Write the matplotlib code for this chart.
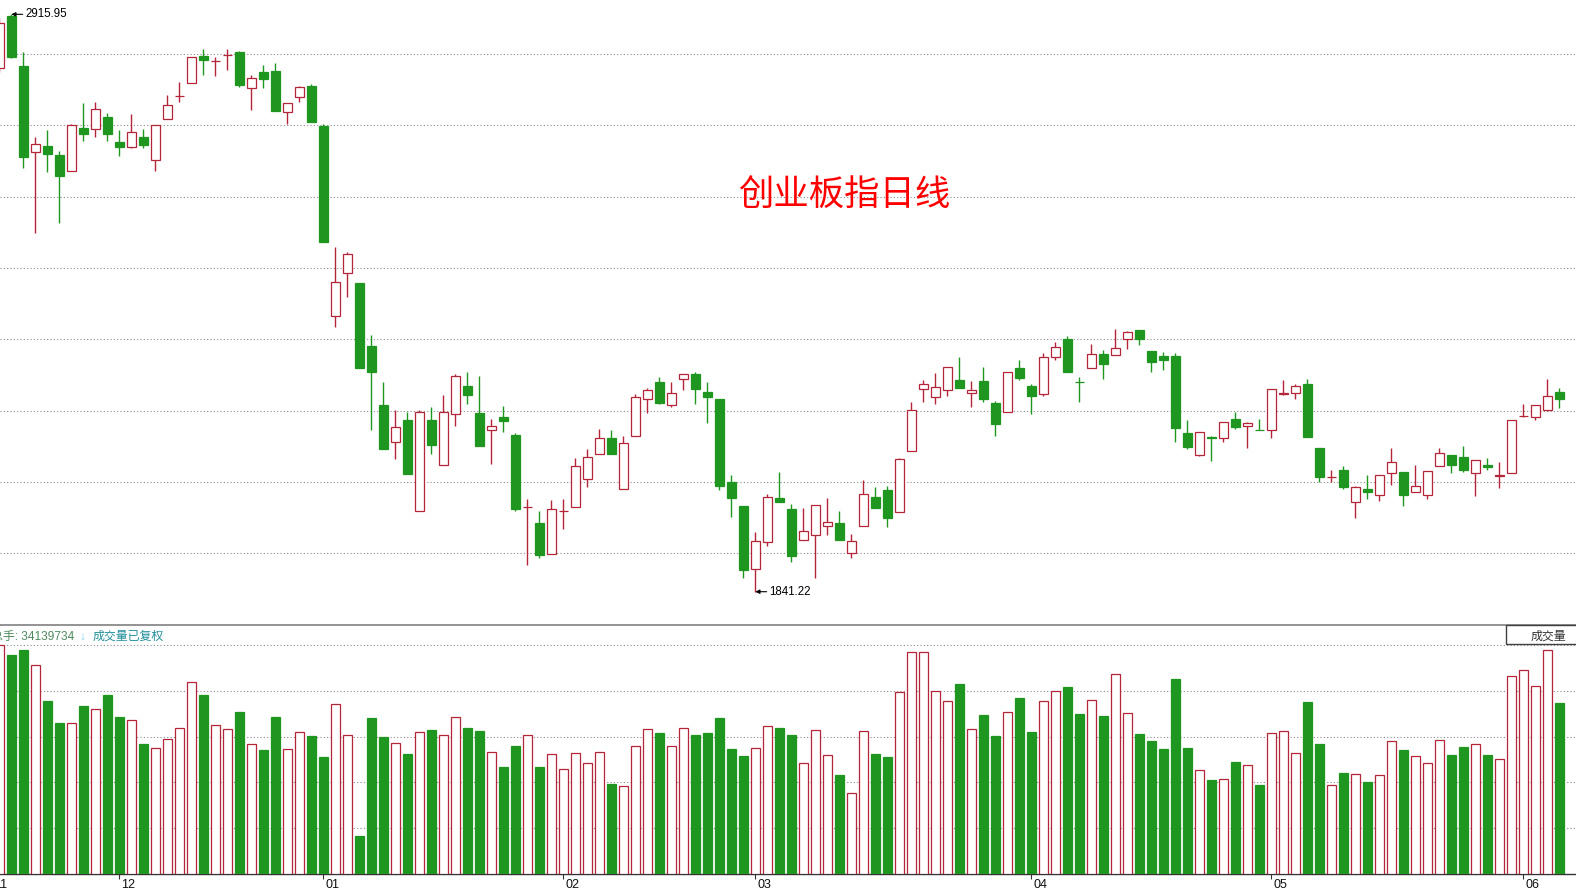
import numpy as np
import matplotlib.pyplot as plt
import matplotlib.transforms as mtrans
from matplotlib.patches import Rectangle

plt.rcParams['font.family'] = ['Liberation Sans', 'Noto Sans CJK SC', 'DejaVu Sans']

# 日线数据
opens = [2815.4, 2913.3, 2819.2, 2660.2, 2670.8, 2653.5, 2624.9, 2704.3, 2701.9, 2724.2,
         2678.3, 2668.4, 2687.6, 2645.3, 2720.5, 2763.3, 2787.5, 2838.3, 2828.5, 2839.6,
         2845.2, 2778.2, 2808.6, 2810.4, 2734.7, 2761.5, 2782.5, 2708.6, 2355.0, 2435.0,
         2415.8, 2298.6, 2188.7, 2119.3, 2160.8, 1992.0, 2160.8, 2076.5, 2171.4, 2224.1,
         2173.9, 2141.7, 2165.9, 2132.4, 1998.0, 1968.5, 1910.9, 1990.9, 1998.3, 2050.5,
         2097.0, 2126.8, 2031.8, 2130.5, 2199.4, 2231.0, 2188.2, 2236.6, 2246.4, 2212.9,
         2199.9, 2044.9, 2000.8, 1882.9, 1933.2, 2015.6, 1995.2, 1936.9, 1946.2, 1964.1,
         1969.1, 1912.7, 1964.1, 2017.5, 2030.5, 1989.0, 2103.7, 2218.0, 2203.1, 2216.1,
         2235.3, 2210.5, 2233.4, 2192.5, 2175.2, 2257.6, 2223.6, 2209.8, 2277.5, 2311.0,
         2232.1, 2257.1, 2283.1, 2281.3, 2312.2, 2327.8, 2288.7, 2279.4, 2279.4, 2136.1,
         2095.1, 2129.2, 2126.8, 2162.1, 2150.2, 2142.2, 2141.7, 2209.8, 2210.5, 2227.8,
         2108.7, 2053.8, 2067.2, 2007.6, 2032.4, 2020.7, 2061.6, 2063.5, 2026.3, 2020.7,
         2074.7, 2095.1, 2092.0, 2061.6, 2077.1, 2057.2, 2062.7, 2167.7, 2165.9, 2178.9,
         2212.9]
highs = [2909.1, 2915.95, 2845.2, 2688.1, 2700.6, 2661.5, 2711.2, 2750.9, 2752.7, 2732.2,
         2700.6, 2730.4, 2702.5, 2709.4, 2765.8, 2789.9, 2835.9, 2850.8, 2837.0, 2850.8,
         2848.2, 2802.4, 2821.6, 2825.3, 2750.3, 2782.5, 2786.2, 2711.8, 2482.3, 2473.0,
         2415.8, 2318.5, 2231.6, 2178.9, 2176.3, 2178.9, 2185.0, 2207.9, 2246.4, 2250.2,
         2243.3, 2163.2, 2186.9, 2137.2, 2014.3, 1991.5, 2011.9, 2013.2, 2090.1, 2106.9,
         2144.1, 2142.2, 2131.6, 2209.2, 2219.8, 2241.4, 2231.6, 2245.9, 2250.2, 2232.1,
         2199.9, 2058.5, 2000.8, 1952.4, 2023.1, 2064.0, 2004.5, 1996.5, 2002.1, 2015.1,
         1991.5, 1948.1, 2048.6, 2035.6, 2038.0, 2089.5, 2193.8, 2235.3, 2248.3, 2258.9,
         2278.1, 2233.4, 2259.5, 2196.2, 2249.6, 2272.5, 2227.3, 2285.5, 2306.0, 2316.6,
         2240.3, 2301.7, 2290.6, 2329.6, 2325.9, 2327.8, 2288.7, 2288.0, 2285.0, 2160.3,
         2137.9, 2130.5, 2156.5, 2176.3, 2157.7, 2163.2, 2218.0, 2235.3, 2227.3, 2237.1,
         2108.7, 2067.8, 2075.2, 2038.5, 2059.0, 2057.9, 2108.7, 2063.5, 2077.1, 2065.3,
         2108.7, 2095.1, 2113.0, 2085.8, 2089.5, 2083.2, 2160.3, 2190.0, 2188.2, 2237.7,
         2220.4]
lows = [2808.6, 2834.6, 2630.4, 2509.4, 2623.0, 2526.9, 2624.9, 2680.1, 2688.1, 2680.1,
        2652.8, 2666.5, 2667.1, 2624.9, 2720.5, 2752.2, 2787.5, 2803.5, 2801.7, 2812.8,
        2781.2, 2737.8, 2779.3, 2736.5, 2711.8, 2752.2, 2716.1, 2492.7, 2334.5, 2390.3,
        2257.1, 2142.2, 2107.4, 2088.8, 2060.9, 1992.0, 2098.1, 2076.5, 2150.2, 2191.2,
        2113.0, 2079.5, 2139.1, 1992.0, 1890.4, 1903.4, 1910.9, 1958.5, 1998.3, 2036.7,
        2097.0, 2098.1, 2031.8, 2130.5, 2173.3, 2190.0, 2184.5, 2217.2, 2191.2, 2155.8,
        2030.5, 1980.3, 1867.3, 1841.22, 1926.9, 2008.8, 1897.1, 1936.9, 1867.3, 1947.3,
        1936.9, 1904.5, 1964.1, 1997.6, 1962.2, 1989.0, 2103.7, 2193.8, 2191.2, 2206.1,
        2220.4, 2185.6, 2193.8, 2131.6, 2175.2, 2234.7, 2172.6, 2206.1, 2273.1, 2250.7,
        2194.9, 2257.1, 2237.7, 2281.3, 2292.4, 2299.9, 2250.7, 2254.5, 2120.4, 2107.4,
        2093.3, 2085.1, 2120.4, 2144.6, 2109.3, 2141.7, 2127.9, 2207.9, 2200.5, 2129.7,
        2046.0, 2046.0, 2033.0, 1977.9, 2014.3, 2010.6, 2039.3, 2001.3, 2026.3, 2014.3,
        2074.7, 2062.7, 2064.6, 2019.9, 2067.2, 2034.8, 2061.6, 2165.9, 2160.8, 2177.6,
        2183.7]
closes = [2899.2, 2835.9, 2650.9, 2674.0, 2656.5, 2615.5, 2709.4, 2693.7, 2739.1, 2693.7,
          2669.5, 2696.3, 2673.2, 2709.4, 2746.6, 2763.9, 2835.9, 2830.9, 2829.6, 2840.8,
          2784.4, 2796.8, 2796.1, 2736.5, 2750.3, 2780.1, 2716.1, 2492.7, 2417.1, 2469.2,
          2258.2, 2250.7, 2107.4, 2147.2, 2060.9, 2175.7, 2114.9, 2175.7, 2242.7, 2206.8,
          2113.0, 2149.1, 2159.5, 1995.7, 1998.9, 1909.0, 1994.6, 1992.0, 2074.7, 2091.4,
          2126.8, 2098.1, 2118.0, 2203.1, 2216.1, 2193.0, 2210.5, 2245.9, 2219.1, 2204.2,
          2038.5, 2016.2, 1882.2, 1935.6, 2017.0, 2008.8, 1908.2, 1953.7, 2002.1, 1970.4,
          1938.0, 1935.1, 2022.5, 1997.6, 1979.0, 2087.7, 2178.9, 2227.3, 2221.7, 2258.9,
          2220.4, 2216.7, 2200.5, 2153.9, 2249.6, 2239.6, 2206.1, 2278.6, 2297.3, 2250.7,
          2231.0, 2283.1, 2265.6, 2294.3, 2324.1, 2311.0, 2268.2, 2273.1, 2146.5, 2111.1,
          2137.9, 2127.9, 2156.5, 2148.4, 2154.7, 2141.7, 2218.0, 2210.5, 2223.6, 2129.7,
          2055.3, 2054.4, 2036.7, 2035.6, 2027.4, 2057.9, 2082.1, 2021.8, 2037.4, 2065.3,
          2098.8, 2077.6, 2068.3, 2085.8, 2072.8, 2057.9, 2160.3, 2168.3, 2188.2, 2204.9,
          2200.5]
# 成交量 (万手)
volumes = [4572, 4379, 4472, 4166, 3454, 3015, 3008, 3354, 3294, 3574,
           3135, 3068, 2595, 2516, 2695, 2915, 3833, 3574, 2975, 2895,
           3228, 2589, 2476, 3135, 2496, 2828, 2755, 2336, 3387, 2768,
           759, 3115, 2735, 2609, 2396, 2828, 2875, 2768, 3128, 2915,
           2848, 2429, 2136, 2556, 2768, 2143, 2396, 2090, 2416, 2216,
           2436, 1803, 1757, 2556, 2895, 2815, 2556, 2915, 2775, 2815,
           3115, 2502, 2363, 2516, 2948, 2915, 2775, 2216, 2868, 2376,
           1983, 1617, 2848, 2396, 2343, 3634, 4432, 4432, 3654, 3454,
           3793, 2895, 3174, 2755, 3228, 3514, 2835, 3454, 3660, 3733,
           3194, 3474, 3154, 3986, 3208, 2795, 2655, 2496, 3893, 2516,
           2070, 1877, 1890, 2236, 2176, 1777, 2808, 2848, 2409, 3434,
           2595, 1770, 2016, 1990, 1830, 1977, 2649, 2476, 2356, 2209,
           2669, 2376, 2536, 2589, 2376, 2289, 3946, 4066, 3747, 4472,
           3414]
month_labels = ['11', '12', '01', '02', '03', '04', '05', '06']
month_starts = [-0.6, 10, 27, 47, 63, 86, 106, 127]
title = '创业板指日线'
total_hands = '34139734'

RED = '#b3263a'
GREEN = '#1f961f'
GRID = '#8c8c8c'
W, H = 1576, 891


def fy(px):
    return 1 - px / H


fig = plt.figure(figsize=(W / 100, H / 100), dpi=100)
ax = fig.add_axes([0, fy(625), 1, 625 / H])
axv = fig.add_axes([0, fy(874), 1, (874 - 625) / H])

o = np.array(opens)
c = np.array(closes)
x = np.arange(len(o))
up = c >= o
edge = np.where(up, RED, GREEN)
face = np.where(up, 'white', GREEN)

xlim = (0.6 / 12, (W + 0.6) / 12)

# K线
ax.vlines(x, lows, highs, colors=edge, lw=1.0, zorder=2)
ax.bar(x, np.maximum(np.abs(c - o), 1.2), bottom=np.minimum(o, c), width=0.7,
       color=face, edgecolor=edge, linewidth=0.9, zorder=3)
for lv in 2842.1 - 132.8 * np.arange(8):
    ax.axhline(lv, color=GRID, lw=0.8, ls=(0, (1, 2)), zorder=1)
ax.set_xlim(*xlim)
ax.set_ylim(2942.57 - 1.8613 * 625, 2942.57)
ax.axis('off')

arrow = dict(arrowstyle='-|>', color='black', lw=0.8, mutation_scale=6,
             shrinkA=0, shrinkB=0)
i_hi = int(np.argmax(highs))
i_lo = int(np.argmin(lows))
ax.annotate(f'{highs[i_hi]:.2f}', xy=(i_hi, highs[i_hi]), xytext=(14, 0),
            textcoords='offset pixels', ha='left', va='center', fontsize=8.3,
            arrowprops=arrow, zorder=5)
ax.annotate(f'{lows[i_lo]:.2f}', xy=(i_lo, lows[i_lo]), xytext=(14, 0),
            textcoords='offset pixels', ha='left', va='center', fontsize=8.3,
            arrowprops=arrow, zorder=5)

# 成交量
axv.bar(x, volumes, width=0.7, color=face, edgecolor=edge, linewidth=0.9, zorder=3)
for lv in 914.4 * np.arange(1, 6):
    axv.axhline(lv, color=GRID, lw=0.8, ls=(0, (1, 2)), zorder=1)
axv.set_xlim(*xlim)
axv.set_ylim(0, 249 * 19.965)
for s in ['left', 'right']:
    axv.spines[s].set_visible(False)
axv.spines['top'].set_color('#808080')
axv.spines['top'].set_linewidth(1.2)
axv.spines['bottom'].set_color('#333333')
axv.spines['bottom'].set_linewidth(1.0)
axv.set_yticks([])
axv.set_xticks(month_starts[1:])
axv.tick_params(axis='x', length=3.6, width=0.8, color='#333333', labelbottom=False)
tr = mtrans.blended_transform_factory(axv.transData, fig.transFigure)
for m, lab in zip(month_starts, month_labels):
    axv.text(m + 0.17, fy(885), lab, transform=tr, ha='left', va='center',
             fontsize=9, color='#111111', clip_on=False)

# 文字
fig.text(844 / W, fy(196), title, color='#ff0000', fontsize=25.5, ha='center',
         va='center', family=['Noto Sans CJK SC'])
fig.text(-9 / W, fy(637), f'总手: {total_hands}', color='#4d8a5e', fontsize=8.6,
         ha='left', va='center')
fig.text(79 / W, fy(637), '↓', color='#7fd0e8', fontsize=8.6, ha='left', va='center')
fig.text(93 / W, fy(637), '成交量已复权', color='#1f8f9a', fontsize=8.6,
         ha='left', va='center')
fig.patches.append(Rectangle((1506 / W, fy(644)), (W - 1506 + 5) / W, 19 / H,
                             transform=fig.transFigure, fill=False,
                             edgecolor='#404040', lw=1.0))
fig.text(1566 / W, fy(636.5), '成交量', color='#333333', fontsize=8.6, ha='right',
         va='center')

fig.savefig('out.png', dpi=100, facecolor='white')
